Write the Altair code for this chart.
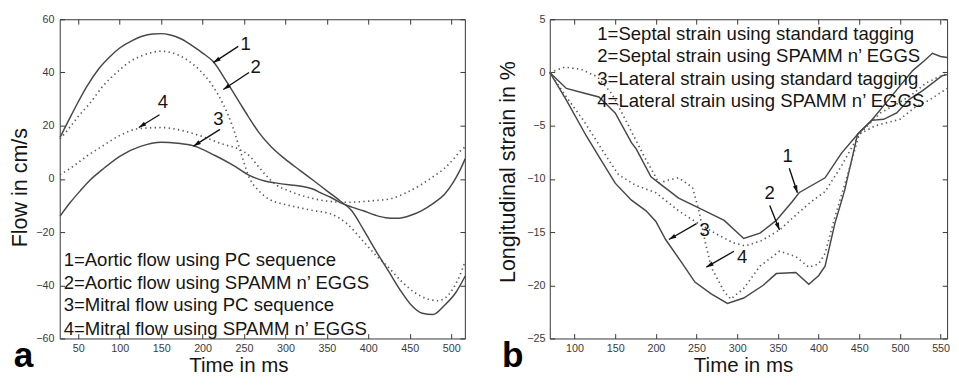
import math
import altair as alt
import pandas as pd

FONT = "Liberation Sans"
LINE_SOLID = "#474747"
LINE_DOT = "#5a5a5a"
TXT = "#151515"

# ---------------- Panel a : flow ----------------
a_t1 = [28, 40, 50, 60, 75, 90, 100, 115, 126, 140, 150, 160, 175, 190, 200, 213, 228, 245, 255, 268, 283, 299, 317, 335, 350, 366, 380, 394, 410, 425, 440, 452, 465, 478, 492, 505, 517]
a_v1 = [15.6, 23, 29, 34.6, 41.5, 46.5, 49.2, 52, 53.5, 54.5, 54.6, 54.2, 52.5, 49.5, 47.3, 44, 37, 28.5, 23.5, 17.4, 12, 7.6, 3.3, -0.9, -4.5, -8.3, -12, -19, -27.5, -35, -42.5, -47.5, -50.5, -51, -47.5, -43, -36.5]
a_t2 = [28, 40, 50, 64, 80, 99, 112, 126, 140, 150, 165, 180, 197, 212, 225, 237, 247, 257, 268, 280, 298, 315, 335, 354, 374, 394, 410, 425, 440, 455, 470, 484, 497, 508, 517]
a_v2 = [15, 19.5, 23.5, 28.4, 35, 40.7, 44, 46.2, 47.6, 48, 47.2, 45, 40.7, 35, 28, 19, 9, 0, -4.5, -7.6, -9.5, -10.7, -12, -13.1, -16.8, -23.5, -29, -33.5, -38.5, -42.5, -45, -45.8, -43.5, -38, -31]
a_t3 = [28, 40, 52, 64, 79, 100, 125, 150, 170, 190, 215, 236, 257, 275, 288, 304, 319, 333, 342, 355, 366, 380, 394, 408, 421, 433, 441, 453, 464, 478, 492, 503, 511, 517]
a_v3 = [-14, -9, -4.6, -0.5, 3.5, 8.5, 12.2, 13.8, 13.4, 12.3, 8.8, 5.3, 1.2, -0.8, -1.5, -2.2, -2.75, -3.8, -5.2, -7, -8.9, -10.6, -12, -13.6, -14.6, -14.8, -14.6, -13.5, -12, -9.3, -5.8, -1, 3.5, 7.6]
a_t4 = [28, 45, 60, 80, 100, 123, 150, 175, 197, 225, 245, 257, 267, 276, 290, 303, 315, 335, 354, 374, 394, 410, 425, 445, 464, 478, 492, 503, 511, 517]
a_v4 = [1.5, 5, 8.5, 12.5, 16.3, 18.9, 19.3, 18.2, 16.2, 13, 11, 8.5, 4.8, 1.5, -2.5, -4.4, -5.8, -7.5, -8.5, -8.8, -8.5, -8.1, -7.6, -5.3, -2.1, 0.8, 4, 7.5, 10.5, 12]

a_legend = ["1=Aortic flow using PC sequence", "2=Aortic flow using SPAMM n\u2019 EGGS",
            "3=Mitral flow using PC sequence", "4=Mitral flow using SPAMM n\u2019 EGGS"]
a_leg_t = [32.3, 32.3, 32.3, 32.3]
a_leg_v = [-30.6, -39.1, -47.5, -56.3]
a_num = ["1", "2", "3", "4"]
a_num_t = [252, 264, 219, 152]
a_num_v = [50.5, 42, 22.3, 29]
a_arr_t0 = [243, 256, 221, 148]
a_arr_v0 = [49.8, 40, 18.6, 24.1]
a_arr_t1 = [213, 225, 189, 123]
a_arr_v1 = [43.7, 33.6, 12.3, 19.3]
a_xticks = [50, 100, 150, 200, 250, 300, 350, 400, 450, 500]
a_yticks = [-60, -40, -20, 0, 20, 40, 60]

# ---------------- Panel b : strain ----------------
b_t1 = [69.6, 90, 110, 130, 146, 150, 170, 176, 194, 204, 228, 252, 284, 308, 328, 348, 368, 376, 408, 428, 448, 464, 490, 516, 530, 540, 550, 558]
b_v1 = [0, -1.5, -1.9, -2.3, -3.5, -3.8, -6.6, -7.2, -9.8, -10.4, -11.8, -12.7, -13.9, -15.6, -15.1, -13.9, -12.1, -11.3, -9.9, -7.6, -5.8, -4.6, -2.2, 0.2, 1.1, 1.8, 1.5, 1.4]
b_t2 = [69.6, 90, 110, 126, 140, 154, 175, 200, 228, 250, 275, 295, 310, 330, 352, 375, 390, 408, 428, 450, 476, 500, 516, 532, 548, 558]
b_v2 = [0, -2.3, -4.4, -6.3, -8, -9.6, -10.6, -11.3, -13, -14.1, -15.2, -16, -16.3, -15.8, -14.8, -13.2, -12.2, -11.2, -8.8, -5.8, -3.8, -2.8, -2, -1, -0.4, -0.1]
b_t3 = [69.6, 90, 114, 130, 150, 170, 188, 200, 212, 232, 248, 268, 288, 308, 332, 348, 372, 388, 400, 408, 420, 432, 448, 465, 480, 496, 512, 528, 552, 558]
b_v3 = [0, -2.6, -5.9, -7.9, -10.4, -12, -13, -14, -15.7, -17.9, -19.7, -20.8, -21.7, -21.2, -20, -18.9, -18.8, -19.9, -19.1, -18.2, -14.2, -11.1, -5.8, -4.5, -4.4, -3.8, -2.5, -1.7, -0.3, -0.2]
b_t4 = [69.6, 88, 108, 128, 146, 165, 185, 204, 216, 228, 245, 253, 260, 268, 284, 292, 308, 328, 352, 372, 388, 400, 408, 420, 435, 450, 470, 485, 500, 518, 536, 550, 558]
b_v4 = [0, 0.5, 0.3, -0.4, -2, -4.8, -7.8, -10.4, -10.1, -9.9, -10.8, -13, -15.7, -18.3, -20.6, -21.3, -20.3, -18.2, -16.8, -17.3, -18.3, -18, -17, -13.6, -9.8, -5.8, -5, -4.7, -4.4, -3.3, -2.6, -1.9, -1.5]

b_legend = ["1=Septal strain using standard tagging", "2=Septal strain using SPAMM n\u2019 EGGS",
            "3=Lateral strain using standard tagging", "4=Lateral strain using SPAMM n\u2019 EGGS"]
b_leg_t = [128, 128, 128, 128]
b_leg_v = [3.6, 1.5, -0.6, -2.7]
b_num = ["1", "2", "3", "4"]
b_num_t = [362, 340, 260, 306]
b_num_v = [-7.9, -11.3, -14.8, -17.4]
b_arr_t0 = [364, 340, 250, 296]
b_arr_v0 = [-9, -12.5, -14.2, -16.8]
b_arr_t1 = [374, 352, 216, 262]
b_arr_v1 = [-11.3, -14.8, -15.7, -18.3]
b_xticks = [100, 150, 200, 250, 300, 350, 400, 450, 500, 550]
b_yticks = [-25, -20, -15, -10, -5, 0, 5]


def series_df(ts, vs, names):
    rows = []
    for t, v, n in zip(ts, vs, names):
        for a, b in zip(t, v):
            rows.append({"t": a, "v": b, "s": n})
    return pd.DataFrame(rows)


HEAD = "M0,-1L0.55,0.8L-0.55,0.8Z"


def panel(solid, dotted, interp, xdom, ydom, W, H, xticks, yticks, ytitle,
          titleX, titleY, ylabpad, ytitlepad, legend, leg_t, leg_v,
          nums, num_t, num_v, at0, av0, at1, av1, letter, letter_x, letter_y):
    xs = alt.Scale(domain=xdom, nice=False, zero=False)
    ys = alt.Scale(domain=ydom, nice=False, zero=False)
    kx = W / (xdom[1] - xdom[0])
    ky = H / (ydom[1] - ydom[0])

    x_main = alt.X("t:Q", scale=xs, axis=alt.Axis(
        values=xticks, orient="bottom", offset=-5, tickSize=5, domain=False, grid=False,
        minExtent=0, tickColor="#333", labelFont=FONT, labelFontSize=11, labelColor="#3a3a3a",
        labelPadding=4, title="Time in ms", titleFont=FONT, titleFontSize=21,
        titleFontWeight="normal", titleColor=TXT, titlePadding=2, titleX=titleX))
    y_main = alt.Y("v:Q", scale=ys, axis=alt.Axis(
        values=yticks, orient="left", offset=-5, tickSize=5, domain=False, grid=False,
        minExtent=0, tickColor="#333", labelFont=FONT, labelFontSize=11, labelColor="#3a3a3a",
        labelPadding=ylabpad, title=ytitle, titleFont=FONT, titleFontSize=22,
        titleFontWeight="normal", titleColor=TXT, titlePadding=ytitlepad, titleY=titleY))

    sol = alt.Chart(solid).mark_line(interpolate=interp, color=LINE_SOLID, strokeWidth=1.5).encode(
        x=x_main, y=y_main, detail="s:N")
    dot = alt.Chart(dotted).mark_line(interpolate=interp, color=LINE_DOT, strokeWidth=1.7,
                                      strokeDash=[1.4, 3.4]).encode(
        x=alt.X("t:Q", scale=xs, axis=None), y=alt.Y("v:Q", scale=ys, axis=None), detail="s:N")
    ticks = alt.Chart(solid).mark_line(opacity=0, interpolate=interp).encode(
        x=alt.X("t:Q", scale=xs, axis=alt.Axis(values=xticks, orient="top", offset=-5, tickSize=5,
                                                domain=False, grid=False, labels=False, title=None,
                                                minExtent=0, maxExtent=0, tickColor="#333")),
        y=alt.Y("v:Q", scale=ys, axis=alt.Axis(values=yticks, orient="right", offset=-5, tickSize=5,
                                                domain=False, grid=False, labels=False, title=None,
                                                minExtent=0, maxExtent=0, tickColor="#333")),
        detail="s:N")

    leg = alt.Chart(pd.DataFrame({"t": leg_t, "v": leg_v, "txt": legend})).mark_text(
        align="left", baseline="middle", font=FONT, fontSize=19, color=TXT).encode(
        x=alt.X("t:Q", scale=xs, axis=None), y=alt.Y("v:Q", scale=ys, axis=None), text="txt:N")
    num = alt.Chart(pd.DataFrame({"t": num_t, "v": num_v, "txt": nums})).mark_text(
        align="center", baseline="middle", font=FONT, fontSize=19, color=TXT).encode(
        x=alt.X("t:Q", scale=xs, axis=None), y=alt.Y("v:Q", scale=ys, axis=None), text="txt:N")

    hx, hy, ang = [], [], []
    for t0, v0, t1, v1 in zip(at0, av0, at1, av1):
        dxp = (t1 - t0) * kx
        dyp = -(v1 - v0) * ky
        L = math.hypot(dxp, dyp)
        ux, uy = dxp / L, dyp / L
        ang.append(math.degrees(math.atan2(ux, -uy)) % 360)
        back = 4.2
        hx.append(t1 - back * ux / kx)
        hy.append(v1 + back * uy / ky)
    arr = pd.DataFrame({"t0": at0, "v0": av0, "t1": at1, "v1": av1, "hx": hx, "hy": hy, "ang": ang})
    shaft = alt.Chart(arr).mark_rule(color="#111", strokeWidth=1.4).encode(
        x=alt.X("t0:Q", scale=xs, axis=None), y=alt.Y("v0:Q", scale=ys, axis=None),
        x2="t1:Q", y2="v1:Q")
    head = alt.Chart(arr).mark_point(shape=HEAD, filled=True, color="#111", opacity=1, size=70,
                                     strokeWidth=0).encode(
        x=alt.X("hx:Q", scale=xs, axis=None), y=alt.Y("hy:Q", scale=ys, axis=None),
        angle=alt.Angle("ang:Q", scale=None))

    let = alt.Chart(pd.DataFrame({"txt": [letter]})).mark_text(
        align="center", baseline="alphabetic", font=FONT, fontSize=36, fontWeight="bold",
        color="#000").encode(x=alt.value(letter_x), y=alt.value(letter_y), text="txt:N")

    return alt.layer(sol, dot, ticks, leg, shaft, head, num, let).resolve_axis(
        x="independent", y="independent").properties(width=W, height=H)


a_solid = series_df([a_t1, a_t3], [a_v1, a_v3], ["1", "3"])
a_dot = series_df([a_t2, a_t4], [a_v2, a_v4], ["2", "4"])
b_solid = series_df([b_t1, b_t3], [b_v1, b_v3], ["1", "3"])
b_dot = series_df([b_t2, b_t4], [b_v2, b_v4], ["2", "4"])

pa = panel(a_solid, a_dot, "monotone", [27.6, 516.5], [-60, 60], 415, 327, a_xticks, a_yticks,
           "Flow in cm/s", 183, 172, 6, 4, a_legend, a_leg_t, a_leg_v,
           a_num, a_num_t, a_num_v, a_arr_t0, a_arr_v0, a_arr_t1, a_arr_v1, "a", -37, 356)
pb = panel(b_solid, b_dot, "linear", [69.6, 558.0], [-25, 5], 407, 327, b_xticks, b_yticks,
           "Longitudinal strain in %", 198, 156, 5, 7, b_legend, b_leg_t, b_leg_v,
           b_num, b_num_t, b_num_v, b_arr_t0, b_arr_v0, b_arr_t1, b_arr_v1, "b", -38, 356)

chart = alt.hconcat(pa, pb, spacing=27).configure(
    padding={"left": 0, "top": 0, "right": 0, "bottom": 0}, background="white"
).configure_view(stroke="#333", strokeWidth=1)

chart.save("out.html", embed_options={"renderer": "svg", "actions": False})
